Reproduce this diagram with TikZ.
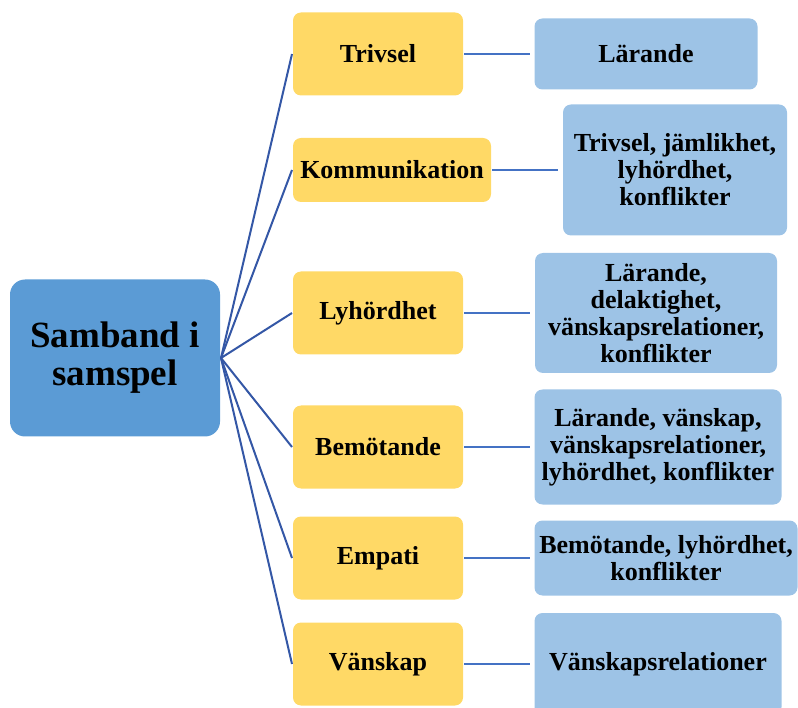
\documentclass[tikz,border=0pt]{standalone}
\usepackage{fontspec}
\setmainfont{Liberation Serif}
\usetikzlibrary{positioning}
\definecolor{rootblue}{HTML}{5B9BD5}
\definecolor{topicyellow}{HTML}{FFD966}
\definecolor{linkblue}{HTML}{9DC3E6}
\definecolor{lineblue}{HTML}{4472C4}
\definecolor{spokeblue}{HTML}{3457A6}
\tikzset{
	box/.style={rounded corners=8pt, inner sep=0pt, align=center,
		font=\fontsize{26}{27}\selectfont\bfseries},
	topic/.style={box, fill=topicyellow, minimum width=170pt, minimum height=83pt},
	link/.style={box, fill=linkblue, minimum width=245pt}
}

\begin{document}
\begin{tikzpicture}[x=1pt,y=-1pt,line width=2pt]
	\useasboundingbox (0,0) rectangle (798,708);
	\clip (0,0) rectangle (798,708);

	\node[box, fill=rootblue, rounded corners=15pt, minimum width=210pt, minimum height=157pt,
		font=\fontsize{37}{38}\selectfont\bfseries] (S) at (115,358) {Samband i\\samspel};

	\node[topic] (T) at (378,54)	{Trivsel};
	\node[topic, minimum width=198pt, minimum height=64pt] (K) at (392,170)	{Kommunikation};
	\node[topic] (L) at (378,313)	{Lyhördhet};
	\node[topic] (B) at (378,447)	{Bemötande};
	\node[topic] (E) at (378,558)	{Empati};
	\node[topic] (V) at (378,664)	{Vänskap};

	\node[link, minimum width=223pt, minimum height=71pt] (T2) at (646,54)	{Lärande};
	\node[link, minimum width=224pt, minimum height=131pt] (K2) at (675,170)	{Trivsel, jämlikhet,\\lyhördhet,\\konflikter};
	\node[link, minimum width=242pt, minimum height=120pt] (L2) at (656,313)	{Lärande,\\delaktighet,\\vänskapsrelationer,\\konflikter};
	\node[link, minimum width=247pt, minimum height=115pt] (B2) at (658,447)	{Lärande, vänskap,\\vänskapsrelationer,\\lyhördhet, konflikter};
	\node[link, minimum width=263pt, minimum height=75pt] (E2) at (666,558)	{Bemötande, lyhördhet,\\konflikter};
	\node[link, minimum width=247pt, minimum height=102pt] (V2) at (658,664)	{Vänskapsrelationer};

	\foreach \t in {T,K,L,B,E,V}
		\draw[spokeblue] (S.east) -- (\t.west);
	\foreach \t in {T,K,L,B,E,V}
		\draw[lineblue, shorten >=4pt] (\t.east) -- (\t2.west);
\end{tikzpicture}
\end{document}
